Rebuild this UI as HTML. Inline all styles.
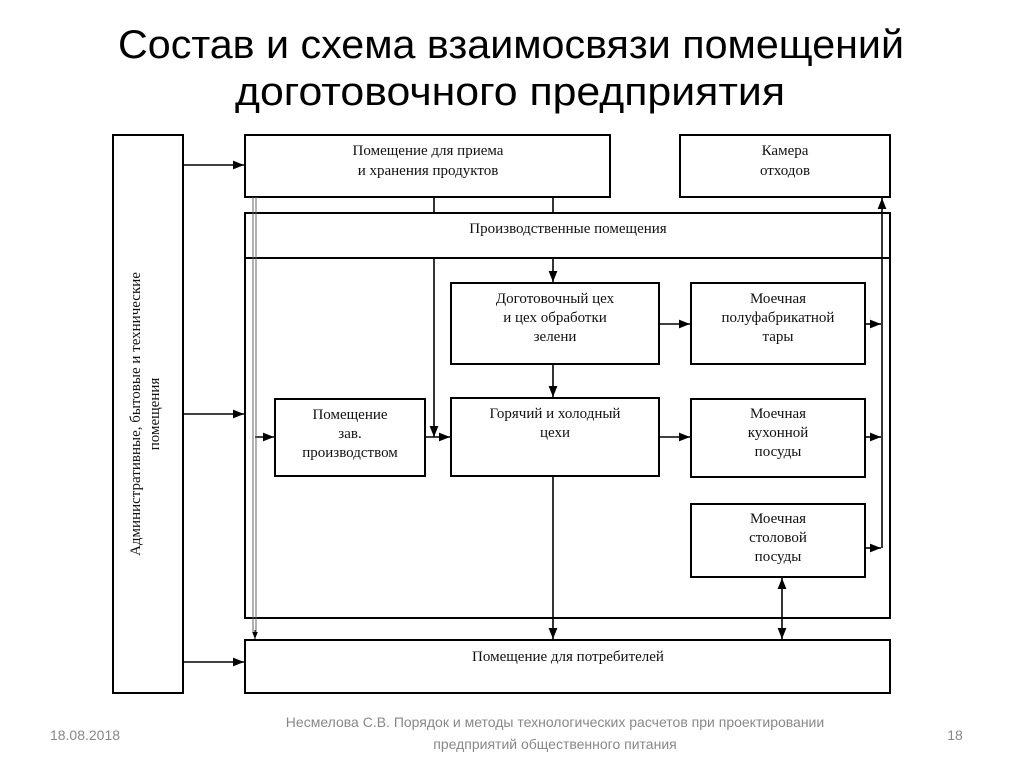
<!DOCTYPE html>
<html><head><meta charset="utf-8"><style>
html,body{margin:0;padding:0;background:#fff;}
svg{display:block;}
</style></head><body>
<svg width="1024" height="767" viewBox="0 0 1024 767" xmlns="http://www.w3.org/2000/svg">
<defs>
<marker id="a" viewBox="0 0 10 10" refX="10" refY="5" markerWidth="7" markerHeight="7" orient="auto-start-reverse"><path d="M0,1 L10,5 L0,9 z" fill="#000"/></marker>
</defs>
<rect width="1024" height="767" fill="#fff"/>
<g font-family="'Liberation Sans', sans-serif" fill="#000">
<text x="118" y="58" font-size="40" textLength="786" lengthAdjust="spacingAndGlyphs">Состав и схема взаимосвязи помещений</text>
<text x="235" y="105" font-size="40" textLength="550" lengthAdjust="spacingAndGlyphs">доготовочного предприятия</text>
</g>
<g fill="none" stroke="#000" stroke-width="2">
<rect x="113" y="135" width="70" height="558"/>
<rect x="245" y="135" width="365" height="62"/>
<rect x="680" y="135" width="210" height="62"/>
<rect x="245" y="213" width="645" height="405"/>
<line x1="245" y1="258" x2="890" y2="258"/>
<rect x="451" y="283" width="208" height="81"/>
<rect x="451" y="398" width="208" height="78"/>
<rect x="275" y="399" width="150" height="77"/>
<rect x="691" y="283" width="174" height="81"/>
<rect x="691" y="399" width="174" height="78"/>
<rect x="691" y="504" width="174" height="73"/>
<rect x="245" y="640" width="645" height="53"/>
</g>
<g stroke="#000" stroke-width="1.6" fill="none">
<line x1="183" y1="165" x2="244" y2="165" marker-end="url(#a)"/>
<line x1="183" y1="414" x2="244" y2="414" marker-end="url(#a)"/>
<line x1="183" y1="662" x2="244" y2="662" marker-end="url(#a)"/>
<line x1="434" y1="197" x2="434" y2="213"/>
<line x1="434" y1="258" x2="434" y2="437" marker-end="url(#a)"/>
<line x1="553" y1="197" x2="553" y2="213"/>
<line x1="553" y1="258" x2="553" y2="282" marker-end="url(#a)"/>
<line x1="553" y1="364" x2="553" y2="397" marker-end="url(#a)"/>
<line x1="553" y1="476" x2="553" y2="639" marker-end="url(#a)"/>
<line x1="255" y1="437" x2="274" y2="437" marker-end="url(#a)"/>
<line x1="425" y1="437" x2="450" y2="437" marker-end="url(#a)"/>
<line x1="659" y1="324" x2="690" y2="324" marker-end="url(#a)"/>
<line x1="659" y1="437" x2="690" y2="437" marker-end="url(#a)"/>
<line x1="865" y1="324" x2="881" y2="324" marker-end="url(#a)"/>
<line x1="865" y1="437" x2="881" y2="437" marker-end="url(#a)"/>
<line x1="865" y1="548" x2="881" y2="548" marker-end="url(#a)"/>
<line x1="882" y1="548" x2="882" y2="198" marker-end="url(#a)"/>
<line x1="782" y1="578" x2="782" y2="639" marker-start="url(#a)" marker-end="url(#a)"/>
</g>
<g stroke="#666" stroke-width="1">
<line x1="253" y1="197" x2="253" y2="632"/>
<line x1="256" y1="197" x2="256" y2="632"/>
</g>
<line x1="255" y1="630" x2="255" y2="639" stroke="#000" stroke-width="1" marker-end="url(#a)"/>
<g font-family="'Liberation Serif', serif" font-size="15" fill="#111" text-anchor="middle">
<text x="428" y="155">Помещение для приема</text>
<text x="428" y="175">и хранения продуктов</text>
<text x="785" y="155">Камера</text>
<text x="785" y="175">отходов</text>
<text x="568" y="233">Производственные помещения</text>
<text x="555" y="303">Доготовочный цех</text>
<text x="555" y="322">и цех обработки</text>
<text x="555" y="341">зелени</text>
<text x="555" y="418">Горячий и холодный</text>
<text x="555" y="437">цехи</text>
<text x="350" y="419">Помещение</text>
<text x="350" y="438">зав.</text>
<text x="350" y="457">производством</text>
<text x="778" y="303">Моечная</text>
<text x="778" y="322">полуфабрикатной</text>
<text x="778" y="341">тары</text>
<text x="778" y="418">Моечная</text>
<text x="778" y="437">кухонной</text>
<text x="778" y="456">посуды</text>
<text x="778" y="523">Моечная</text>
<text x="778" y="542">столовой</text>
<text x="778" y="561">посуды</text>
<text x="568" y="661">Помещение для потребителей</text>
<text transform="translate(140,414) rotate(-90)">Административные, бытовые и технические</text>
<text transform="translate(159,414) rotate(-90)">помещения</text>
</g>
<g font-family="'Liberation Sans', sans-serif" font-size="14" fill="#888" text-anchor="middle">
<text x="85" y="740">18.08.2018</text>
<text x="555" y="727">Несмелова С.В. Порядок и методы технологических расчетов при проектировании</text>
<text x="555" y="749">предприятий общественного питания</text>
<text x="955" y="740">18</text>
</g>
</svg>
</body></html>
